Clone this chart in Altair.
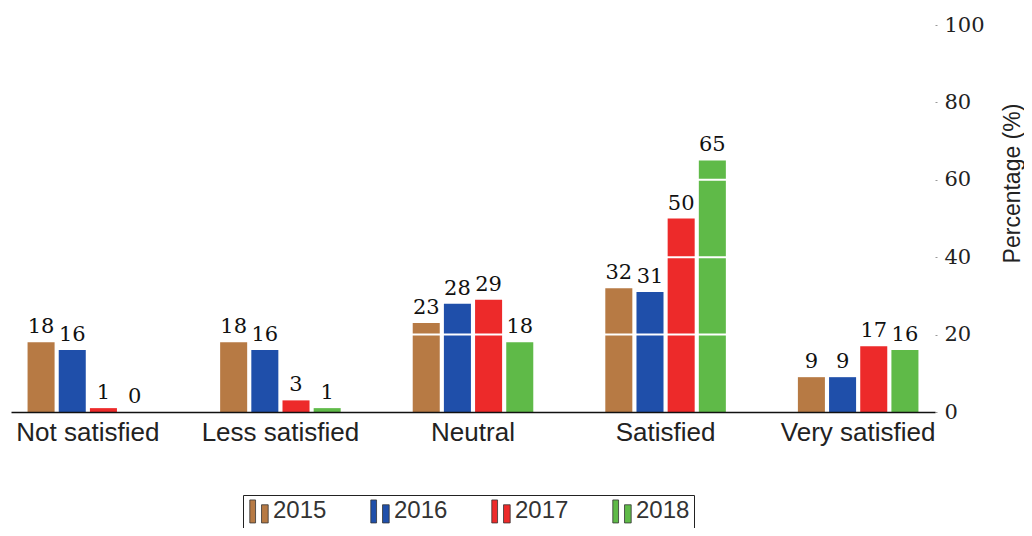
import altair as alt
import pandas as pd

categories = ["Not satisfied", "Less satisfied", "Neutral", "Satisfied", "Very satisfied"]
years = ["2015", "2016", "2017", "2018"]
v2015 = [18, 18, 23, 32, 9]
v2016 = [16, 16, 28, 31, 9]
v2017 = [1, 3, 29, 50, 17]
v2018 = [0, 1, 18, 65, 16]
colors = ["#B77A44", "#1F4FAA", "#ED2A2A", "#5FBA48"]
y_ticks = [0, 20, 40, 60, 80, 100]
grid_lines = [20, 40, 60, 80, 100]

rows = []
for yr, vals in zip(years, [v2015, v2016, v2017, v2018]):
    for c, v in zip(categories, vals):
        rows.append({"category": c, "year": yr, "value": v})
df = pd.DataFrame(rows)
grid_df = pd.DataFrame({"g": grid_lines})

xenc = alt.X("category:N", sort=categories,
             scale=alt.Scale(paddingInner=0.374, paddingOuter=0.086),
             axis=alt.Axis(title=None, labelAngle=0, ticks=False, domainColor="#111",
                           domainWidth=1.5, labelFont="Liberation Sans", labelFontSize=26,
                           labelColor="#222", labelPadding=7, zindex=2))
xoff = alt.XOffset("year:N", sort=years, scale=alt.Scale(paddingInner=0.133, paddingOuter=0))
yenc = alt.Y("value:Q", scale=alt.Scale(domain=[0, 100], nice=False),
             axis=alt.Axis(orient="right", values=y_ticks, title="Percentage (%)",
                           domain=False, tickSize=2, tickColor="#999", labelPadding=7,
                           labelFont="DejaVu Serif", labelFontSize=21, labelColor="#222",
                           grid=False,
                           titleFont="Liberation Sans", titleFontSize=23, titleFontWeight="normal",
                           titleColor="#222", titleAngle=270, titleX=84, titleY=158,
                           titleAlign="center", titleBaseline="alphabetic"))

bars = alt.Chart(df).mark_bar().encode(
    x=xenc, xOffset=xoff, y=yenc,
    color=alt.Color("year:N", sort=years, scale=alt.Scale(domain=years, range=colors),
                    legend=alt.Legend(title=None, orient="none", legendX=232, legendY=470,
                                      direction="horizontal", columns=4, columnPadding=41,
                                      symbolType="M-0.8,1 L-0.8,-1 L-0.3,-1 L-0.3,1 Z M0.22,1 L0.22,-0.58 L0.8,-0.58 L0.8,1 Z",
                                      symbolSize=529, symbolStrokeColor="#333", symbolStrokeWidth=0.8,
                                      symbolOpacity=1,
                                      labelFont="Liberation Sans", labelFontSize=24, labelColor="#333",
                                      labelOffset=2, strokeColor="#222", padding=4))
)

grid = alt.Chart(grid_df).mark_rule(color="white", strokeWidth=2).encode(y=alt.Y("g:Q"))

labels = alt.Chart(df).mark_text(baseline="alphabetic", dy=-9, font="DejaVu Serif",
                                 fontSize=21, color="#111").encode(
    x=alt.X("category:N", sort=categories), xOffset=alt.XOffset("year:N", sort=years),
    y="value:Q", text="value:Q")

chart = alt.layer(bars, grid, labels).properties(
    width=924, height=387,
    autosize=alt.AutoSizeParams(type="none"),
    padding={"left": 3, "top": 17, "right": 89, "bottom": 116},
).configure_view(stroke=None)

chart.save("out.html", embed_options={"renderer": "svg", "actions": False})
